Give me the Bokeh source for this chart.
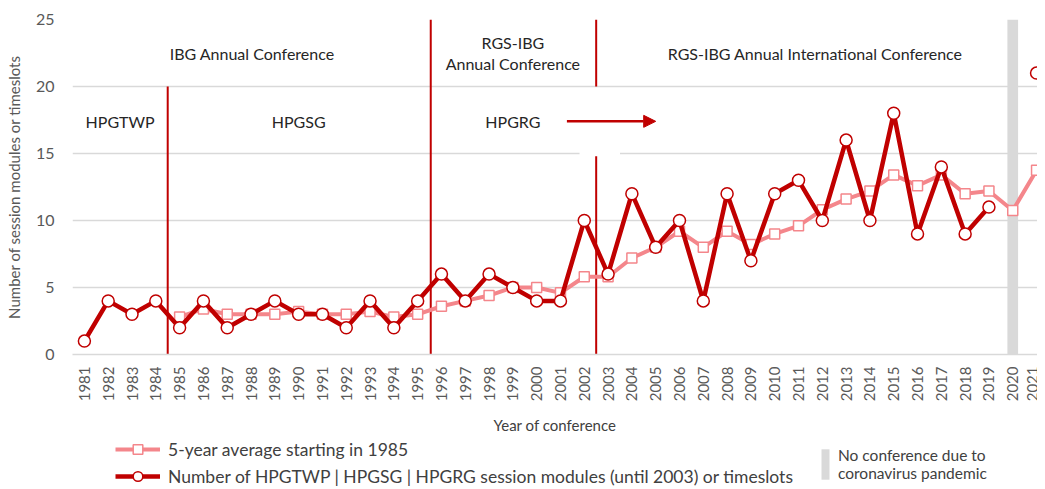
import math
from bokeh.plotting import figure
from bokeh.layouts import column
from bokeh.models import Range1d, Legend, LegendItem, Label, Arrow, NormalHead
from bokeh.embed import file_html
from bokeh.resources import INLINE

# ---- data ----
years = list(range(1981, 2022))
sessions = [1, 4, 3, 4, 2, 4, 2, 3, 4, 3,
            3, 2, 4, 2, 4, 6, 4, 6, 5, 4,
            4, 10, 6, 12, 8, 10, 4, 12, 7, 12,
            13, 10, 16, 10, 18, 9, 14, 9, 11, float("nan"),
            21]
avg_years = list(range(1985, 2022))
avg5 = [2.8, 3.4, 3.0, 3.0, 3.0, 3.2, 3.0, 3.0, 3.2, 2.8,
        3.0, 3.6, 4.0, 4.4, 5.0, 5.0, 4.6, 5.8, 5.8, 7.2,
        8.0, 9.2, 8.0, 9.2, 8.2, 9.0, 9.6, 10.8, 11.6, 12.2,
        13.4, 12.6, 13.4, 12.0, 12.2, 10.75, 13.75]
no_conf_years = [2020]
y_ticks = [0, 5, 10, 15, 20, 25]

DARK = "#C00000"
LIGHT = "#F4868B"
GRID = "#D9D9D9"
FONT = "Lato"

p = figure(frame_width=965, frame_height=335,
           x_range=Range1d(1980.5, 2021.04), y_range=Range1d(0, 25),
           output_backend="svg", toolbar_location=None,
           min_border_left=72, min_border_right=0,
           min_border_top=19, min_border_bottom=82)
p.outline_line_color = None
p.background_fill_color = "white"

p.xgrid.visible = False
p.ygrid.ticker = y_ticks
p.ygrid.grid_line_color = GRID
p.ygrid.grid_line_width = 1.5

p.yaxis.ticker = y_ticks
p.yaxis.axis_line_color = None
p.yaxis.major_tick_line_color = None
p.yaxis.minor_tick_line_color = None
p.yaxis.major_tick_out = 0
p.yaxis.major_tick_in = 0
p.yaxis.minor_tick_out = 0
p.yaxis.major_label_standoff = 18
p.yaxis.major_label_text_font = FONT
p.yaxis.major_label_text_font_size = "16px"
p.yaxis.major_label_text_color = "#595959"
p.yaxis.axis_label = "Number of session modules or timeslots"
p.yaxis.axis_label_text_font = FONT
p.yaxis.axis_label_text_font_size = "15px"
p.yaxis.axis_label_text_font_style = "normal"
p.yaxis.axis_label_text_color = "#595959"
p.yaxis.axis_label_standoff = 10

p.xaxis.ticker = years
p.xaxis.major_label_orientation = math.pi / 2
p.xaxis.axis_line_color = GRID
p.xaxis.axis_line_width = 1.5
p.xaxis.major_tick_line_color = None
p.xaxis.minor_tick_line_color = None
p.xaxis.major_tick_out = 0
p.xaxis.major_tick_in = 0
p.xaxis.minor_tick_out = 0
p.xaxis.major_label_standoff = 12
p.xaxis.major_label_text_font = FONT
p.xaxis.major_label_text_font_size = "15px"
p.xaxis.major_label_text_color = "#595959"
p.xaxis.axis_label = "Year of conference"
p.xaxis.axis_label_text_font = FONT
p.xaxis.axis_label_text_font_size = "15px"
p.xaxis.axis_label_text_font_style = "normal"
p.xaxis.axis_label_text_color = "#404040"
p.xaxis.axis_label_standoff = 12

# no-conference bar
p.vbar(x=no_conf_years, width=0.45, bottom=0, top=25,
       fill_color=GRID, line_color=None)

# period dividers
p.segment(x0=[1984.5, 1995.55, 2002.5, 2002.5], y0=[0, 0, 0, 20],
          x1=[1984.5, 1995.55, 2002.5, 2002.5], y1=[20, 25, 14.85, 25],
          line_color=DARK, line_width=2)
p.quad(left=[2001.8], right=[2003.5], bottom=[14.8], top=[15.2],
       fill_color="white", line_color=None)

p.add_layout(Arrow(end=NormalHead(size=12, fill_color=DARK, line_color=DARK),
                   x_start=2001.27, y_start=17.4, x_end=2005.0, y_end=17.4,
                   line_color=DARK, line_width=2.5))

# series
p.line(avg_years, avg5, line_color=LIGHT, line_width=4)
p.scatter(avg_years, avg5, marker="square", size=10,
          fill_color="white", line_color=LIGHT, line_width=1.5)
p.line(years, sessions, line_color=DARK, line_width=4.5)
p.scatter(years, sessions, marker="circle", size=12,
          fill_color="white", line_color=DARK, line_width=1.5)

# annotations
def lab(x, y, t):
    p.add_layout(Label(x=x, y=y, text=t, text_align="center",
                       text_baseline="middle", text_font=FONT,
                       text_font_size="16px", text_color="#262626"))

lab(1988.05, 22.5, "IBG Annual Conference")
lab(1982.5, 17.4, "HPGTWP")
lab(1990.0, 17.4, "HPGSG")
lab(1999.0, 23.3, "RGS-IBG")
lab(1999.0, 21.7, "Annual Conference")
lab(1999.0, 17.4, "HPGRG")
lab(2011.7, 22.5, "RGS-IBG Annual International Conference")

# ---- legend strip (its frame is aligned with the main frame) ----
q = figure(width=1037, height=51, x_range=Range1d(0, 1), y_range=Range1d(0, 1),
           output_backend="svg", toolbar_location=None,
           x_axis_type=None, y_axis_type=None,
           min_border_left=0, min_border_right=0, min_border_top=0, min_border_bottom=0)
q.outline_line_color = None
q.xgrid.visible = False
q.ygrid.visible = False

# legend proxies (same series, outside this strip's visible range)
l_avg_line = q.line(avg_years, avg5, line_color=LIGHT, line_width=4)
l_avg_pts = q.scatter(avg_years, avg5, marker="square", size=10,
                      fill_color="white", line_color=LIGHT, line_width=1.5)
l_s_line = q.line(years, sessions, line_color=DARK, line_width=4.5)
l_s_pts = q.scatter(years, sessions, marker="circle", size=12,
                    fill_color="white", line_color=DARK, line_width=1.5)
l_bar = q.vbar(x=no_conf_years, width=0.45, bottom=0, top=25,
               fill_color=GRID, line_color=None)

leg1 = Legend(items=[
    LegendItem(label="5-year average starting in 1985", renderers=[l_avg_line, l_avg_pts]),
    LegendItem(label="Number of HPGTWP | HPGSG | HPGRG session modules (until 2003) or timeslots",
               renderers=[l_s_line, l_s_pts]),
], location=(43, 0), orientation="vertical", glyph_width=45, glyph_height=24,
    label_height=20, spacing=3, padding=0, margin=0, label_standoff=8,
    border_line_color=None, background_fill_alpha=0,
    label_text_font=FONT, label_text_font_size="17.5px", label_text_color="#404040")
q.add_layout(leg1)

leg2 = Legend(items=[
    LegendItem(label="No conference due to\ncoronavirus pandemic", renderers=[l_bar]),
], location=(748, 5), glyph_width=10, glyph_height=38, label_height=38,
    padding=0, margin=0, label_standoff=8,
    border_line_color=None, background_fill_alpha=0,
    label_text_font=FONT, label_text_font_size="15.5px", label_text_color="#404040")
q.add_layout(leg2)

layout = column(p, q, spacing=0)
open("out.html", "w").write(file_html(layout, INLINE))
